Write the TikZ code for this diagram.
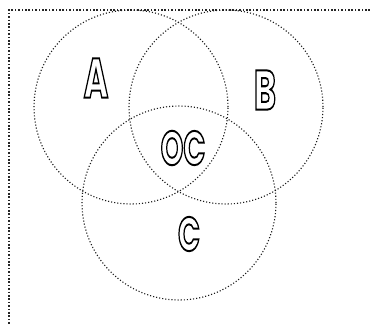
\documentclass[tikz,border=0pt]{standalone}
\usepackage{fontspec}
\setmainfont{Poppins}
\newcommand\outlinetext[1]{\special{pdf:literal direct 1 Tr 2 w}#1\special{pdf:literal direct 0 Tr 1 w}}
\tikzset{
  frameline/.style={line width=1.6pt, dash pattern=on 1.6pt off 1.8pt, black!85},
  venn/.style={circle, draw, line width=1.1pt, dash pattern=on 1.1pt off 2pt, black!90, minimum size=194pt, inner sep=0pt},
  vlabel/.style={inner sep=0pt, font=\fontsize{56}{56}\selectfont\bfseries, xscale=0.6}
}
\begin{document}
\begin{tikzpicture}[x=1pt,y=-1pt]
\useasboundingbox (0,0) rectangle (370,324);
\coordinate (fc) at (9,10);
\coordinate (fr) at (370,10);
\coordinate (fb) at (9,324);
\draw[frameline] (fr) -- (fc) -- (fb);
\node[venn] (ca) at (131,107) {};
\node[venn] (cb) at (226,107) {};
\node[venn] (cc) at (179,203) {};
\node[vlabel] (la) at (96,78) {\outlinetext{A}};
\node[vlabel] (lb) at (265,90) {\outlinetext{B}};
\node[vlabel, font=\fontsize{48}{48}\selectfont\bfseries] (loc) at (183,148) {\outlinetext{OC}};
\node[vlabel, font=\fontsize{48}{48}\selectfont\bfseries] (lc) at (189,234) {\outlinetext{C}};
\end{tikzpicture}
\end{document}
